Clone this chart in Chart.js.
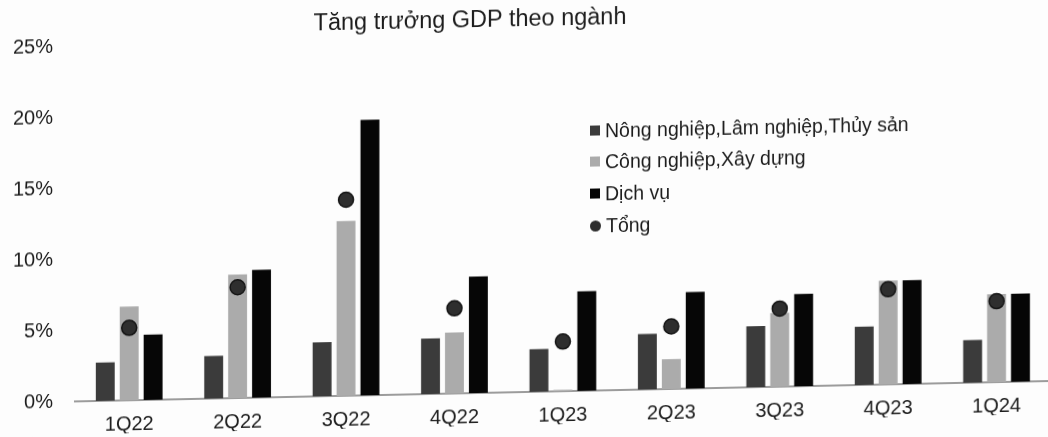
<!DOCTYPE html>
<html>
<head>
<meta charset="utf-8">
<script src="https://cdn.jsdelivr.net/npm/chart.js@4/dist/chart.umd.min.js"></script>
<style>
  html, body { margin: 0; padding: 0; background: #fdfdfd; overflow: hidden; }
  body { width: 1048px; height: 437px; }
  #wrap {
    position: relative; width: 1060px; height: 437px; background: #fdfdfd;
    transform: skewY(-1.2deg); transform-origin: 0 0;
    font-family: "Liberation Sans", Arial, sans-serif; color: #1c1c1c;
  }
  #title {
    position: absolute; left: 470px; top: 15px; transform: translateX(-50%);
    font-size: 23.5px; line-height: 28px; white-space: nowrap;
  }
  #legend { position: absolute; left: 590px; top: 0; }
  .item { position: absolute; left: 0; white-space: nowrap; font-size: 19.5px; line-height: 24px; display: flex; align-items: center; }
  .mark { width: 10px; height: 10px; margin-right: 5px; }
</style>
</head>
<body>
<div id="wrap">
  <canvas id="myChart" width="1060" height="437"></canvas>
  <div id="title">Tăng trưởng GDP theo ngành</div>
  <div id="legend"></div>
</div>
<script>
const labels = ['1Q22', '2Q22', '3Q22', '4Q22', '1Q23', '2Q23', '3Q23', '4Q23', '1Q24']
const nongNghiep = [2.7, 3.0, 3.8, 3.9, 3.0, 3.9, 4.3, 4.1, 3.0]
const congNghiep = [6.6, 8.7, 12.3, 4.3, 0.1, 2.1, 5.2, 7.3, 6.2]
const dichVu = [4.6, 9.0, 19.4, 8.2, 7.0, 6.8, 6.5, 7.3, 6.2]
const tong = [5.1, 7.8, 13.8, 6.0, 3.5, 4.4, 5.5, 6.7, 5.7]
const yTicks = [0, 5, 10, 15, 20, 25]

const font = "'Liberation Sans', Arial, sans-serif"
const barOpts = { categoryPercentage: 0.662, barPercentage: 0.79, order: 1 }

var ctx = document.getElementById('myChart').getContext('2d')
var myChart = new Chart(ctx, {
  type: 'bar',
  data: {
    labels: labels,
    datasets: [
      { label: 'Nông nghiệp,Lâm nghiệp,Thủy sản', data: nongNghiep, backgroundColor: '#3b3b3b', ...barOpts },
      { label: 'Công nghiệp,Xây dựng', data: congNghiep, backgroundColor: '#ababab', ...barOpts },
      { label: 'Dịch vụ', data: dichVu, backgroundColor: '#060606', ...barOpts },
      {
        type: 'line',
        label: 'Tổng',
        data: tong,
        showLine: false,
        order: 0,
        pointRadius: 7.5,
        pointBackgroundColor: '#2e2e2e',
        pointBorderColor: '#141414',
        pointBorderWidth: 1.5,
      },
    ],
  },
  options: {
    responsive: false,
    animation: false,
    devicePixelRatio: 1,
    layout: { padding: { left: 13, top: 48, right: 5.5, bottom: 0 } },
    scales: {
      x: {
        grid: { display: false, drawTicks: false },
        border: { display: true, color: '#9c9c9c', width: 2 },
        ticks: { color: '#1c1c1c', font: { family: font, size: 20 }, padding: 12, maxRotation: 0 },
        afterFit: function (scale) { scale.height = 33 },
      },
      y: {
        min: 0,
        max: 25,
        grid: { display: false, drawTicks: false },
        border: { display: false },
        afterBuildTicks: function (scale) { scale.ticks = yTicks.map(v => ({ value: v })) },
        ticks: {
          color: '#1c1c1c',
          font: { family: font, size: 20 },
          padding: 22,
          callback: function (value) { return value + '%' },
        },
        afterFit: function (scale) { scale.width = 62 },
      },
    },
    plugins: {
      legend: { display: false },
      tooltip: { enabled: false },
      title: { display: false },
    },
  },
})

// legend on the right of the plot, built from the datasets
const legendTops = [131, 162, 194, 226]
const legendBox = document.getElementById('legend')
myChart.data.datasets.forEach(function (ds, k) {
  const item = document.createElement('div')
  item.className = 'item'
  item.style.top = legendTops[k] + 'px'
  const mark = document.createElement('span')
  mark.className = 'mark'
  if (ds.type === 'line') {
    mark.style.background = ds.pointBackgroundColor
    mark.style.borderRadius = '50%'
    mark.style.width = '11px'
    mark.style.height = '11px'
  } else {
    mark.style.background = ds.backgroundColor
  }
  item.appendChild(mark)
  item.appendChild(document.createTextNode(ds.label))
  legendBox.appendChild(item)
})
</script>
</body>
</html>
